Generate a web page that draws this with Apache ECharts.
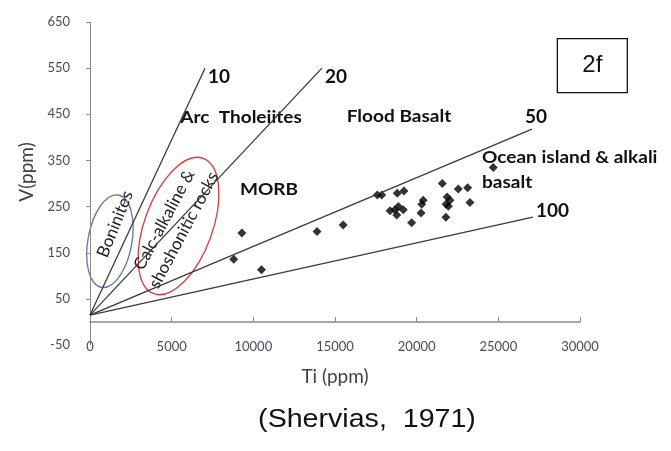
<!DOCTYPE html>
<html>
<head>
<meta charset="utf-8">
<script src="https://cdn.jsdelivr.net/npm/echarts@6/dist/echarts.min.js"></script>
<style>
  html, body { margin: 0; padding: 0; background: #fff; }
  #chart { width: 671px; height: 451px; }
</style>
</head>
<body>
<div id="chart"></div>
<script>
// tick labels
var xTicks = [0, 5000, 10000, 15000, 20000, 25000, 30000]
var yTicks = [50, 150, 250, 350, 450, 550, 650]
var yTicksBelow = [-50]

// Ti / V reference lines (ratio labels)
var ratioNames = ['10', '20', '50', '100']
var ratioStart = [0, 15]
var ratioEnds = [[7040, 550], [14200, 550], [27060, 418], [27120, 227]]

// sample points: Ti (ppm), V (ppm)
var sampleTi = [9300, 8800, 10500, 13900, 15500,
  17590, 17860, 18810, 19220, 21570, 22550, 23120,
  20400, 20310, 20270, 21870, 22040, 21800, 21940,
  23260, 21790, 19690, 18370, 18670, 18780, 19180, 18880, 24690]
var sampleV = [193, 136, 113, 196, 210,
  275, 275, 279, 284, 300, 288, 291,
  264, 255, 236, 271, 264, 255, 251,
  259, 227, 215, 241, 243, 232, 243, 250, 335]

// field labels
var notes = [
  { text: 'Arc  Tholeiites', at: [9245, 444] },
  { text: 'Flood Basalt', at: [18920, 446] },
  { text: 'MORB', at: [10960, 288], size: 17 },
  { text: 'Ocean island & alkali\nbasalt', at: [24000, 384], align: 'left', top: true }
]

var chart = echarts.init(document.getElementById('chart'))

var axisColor = '#8a8a8a'
var series = []
var labelOffsets = [[0, 9], [0, 9], [-10, -12], [0, -6]]

for (var i = 0; i < ratioNames.length; i++) {
  series.push({
    name: ratioNames[i],
    type: 'line',
    data: [ratioStart, ratioEnds[i]],
    symbol: 'none',
    silent: true,
    lineStyle: { color: '#3a3a3a', width: 1.3 },
    endLabel: {
      show: true,
      formatter: '{a}',
      fontFamily: 'Lato',
      fontWeight: 'bold',
      fontSize: 19,
      color: '#111',
      distance: 3,
      offset: labelOffsets[i]
    }
  })
}

var points = []
for (var j = 0; j < sampleTi.length; j++) {
  points.push([sampleTi[j], sampleV[j]])
}

series.push({
  name: 'samples',
  type: 'scatter',
  data: points,
  symbol: 'diamond',
  symbolSize: 9,
  itemStyle: { color: '#000' }
})

var labelStyle = { color: '#4a4a5a', fontFamily: 'Lato', fontSize: 13 }

// main grid runs from V = 0 up; a thin second grid carries the vertical axis down to -50
chart.setOption({
  animation: false,
  grid: [
    { left: 90, right: 91, top: 22, bottom: 129 },
    { left: 90, right: 91, top: 322, bottom: 106 }
  ],
  xAxis: [{
    type: 'value',
    gridIndex: 0,
    min: 0,
    max: 30000,
    interval: 5000,
    name: 'Ti (ppm)',
    nameLocation: 'middle',
    nameGap: 45,
    nameTextStyle: { color: '#404040', fontFamily: 'Lato', fontSize: 19 },
    axisLine: { show: true, onZero: false, lineStyle: { color: axisColor, width: 1.5 } },
    axisTick: { show: true, inside: true, length: 5, lineStyle: { color: axisColor } },
    axisLabel: Object.assign({ margin: 18, formatter: function (v) { return String(v) } }, labelStyle),
    splitLine: { show: false }
  }, {
    type: 'value',
    gridIndex: 1,
    min: 0,
    max: 30000,
    show: false
  }],
  yAxis: [{
    type: 'value',
    gridIndex: 0,
    min: 0,
    max: 650,
    name: 'V(ppm)',
    nameLocation: 'middle',
    nameGap: 60,
    nameRotate: 90,
    nameTextStyle: { color: '#404040', fontFamily: 'Lato', fontSize: 19, padding: [0, 0, -23, 0] },
    axisLine: { show: true, onZero: false, lineStyle: { color: axisColor } },
    axisTick: { show: true, length: 4, customValues: yTicks, lineStyle: { color: axisColor } },
    axisLabel: Object.assign({ customValues: yTicks, margin: 20 }, labelStyle),
    splitLine: { show: false }
  }, {
    type: 'value',
    gridIndex: 1,
    min: -50,
    max: 0,
    axisLine: { show: true, onZero: false, lineStyle: { color: axisColor } },
    axisTick: { show: false },
    axisLabel: Object.assign({ customValues: yTicksBelow, margin: 20 }, labelStyle),
    splitLine: { show: false }
  }],
  series: series
})

function px (p) {
  return chart.convertToPixel({ gridIndex: 0 }, p)
}

var bold = { fontFamily: 'Lato', fontWeight: 'bold', fill: '#111' }
var graphics = []

notes.forEach(function (n) {
  var p = px(n.at)
  graphics.push({
    type: 'text',
    x: p[0],
    y: p[1],
    scaleX: 1.12,
    style: Object.assign({
      text: n.text,
      fontSize: n.size || 17,
      lineHeight: 25,
      textAlign: n.align || 'center',
      textVerticalAlign: n.top ? 'top' : 'middle'
    }, bold)
  })
})

// Boninites field
var bon = px([1220, 175])
graphics.push({
  type: 'ellipse', x: bon[0], y: bon[1], rotation: -0.18,
  shape: { cx: 0, cy: 0, rx: 22, ry: 47 },
  style: { fill: 'none', stroke: '#5b77b0', lineWidth: 1.3 }
})
var bonText = px([1530, 212])
graphics.push({
  type: 'text', x: bonText[0], y: bonText[1], rotation: 68 * Math.PI / 180,
  style: { text: 'Boninites', fontSize: 17, fontFamily: 'Lato', fill: '#222', textAlign: 'center', textVerticalAlign: 'middle' }
})

// Calc-alkaline field
var calc = px([5420, 208])
graphics.push({
  type: 'ellipse', x: calc[0], y: calc[1], rotation: -0.35,
  shape: { cx: 0, cy: 0, rx: 34, ry: 72 },
  style: { fill: 'none', stroke: '#e0383b', lineWidth: 1.3 }
})
var calcText = px([5140, 210])
graphics.push({
  type: 'text', x: calcText[0], y: calcText[1], rotation: 62 * Math.PI / 180,
  style: { text: 'Calc-alkaline &\nshoshonitic rocks', fontSize: 17, lineHeight: 22, fontFamily: 'Lato', fill: '#222', textAlign: 'center', textVerticalAlign: 'middle' }
})

// panel tag
graphics.push({
  type: 'group', right: 43, top: 38,
  children: [
    { type: 'rect', shape: { x: 0, y: 0, width: 70, height: 54 }, style: { fill: '#fff', stroke: '#111', lineWidth: 1.3 } },
    { type: 'text', x: 35, y: 27, style: { text: '2f', fontSize: 24, fontFamily: 'Liberation Sans', fill: '#111', textAlign: 'center', textVerticalAlign: 'middle' } }
  ]
})

// citation
graphics.push({ type: 'text', x: 367, y: 420, scaleX: 1.1,
  style: { text: '(Shervias,  1971)', fontSize: 26, fontFamily: 'Liberation Sans', fill: '#111', textAlign: 'center', textVerticalAlign: 'middle' } })

chart.setOption({ graphic: graphics })
</script>
</body>
</html>
